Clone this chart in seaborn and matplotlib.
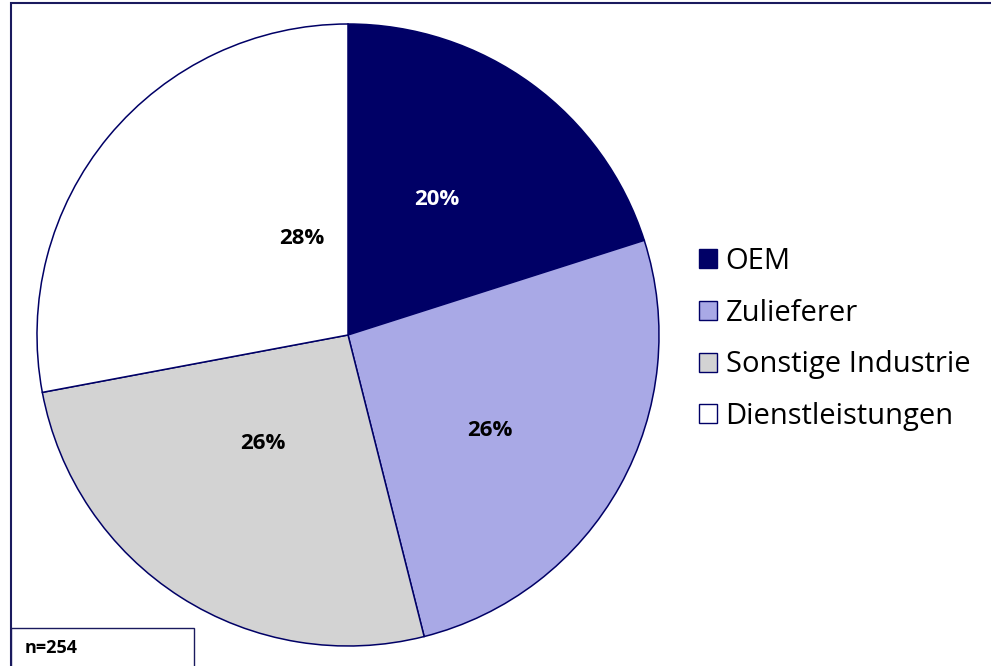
import matplotlib
matplotlib.use("Agg")
import numpy as np
import matplotlib.pyplot as plt
from matplotlib.patches import Patch, Rectangle
import seaborn as sns

# Data (n=254)
categories = ["OEM", "Zulieferer", "Sonstige Industrie", "Dienstleistungen"]
counts = [51, 66, 66, 71]
sample_label = "n=254"

colors = ["#000066", "#A9A9E6", "#D3D3D3", "#FFFFFF"]
pct_colors = ["white", "black", "black", "black"]
# label placement tweaks (radius, angle shift in degrees)
label_r = [0.52, 0.55, 0.445, 0.345]
label_dtheta = [2.8, -5.0, -5.5, -25.0]
edge = "#000066"

sns.set_theme(style="white")
plt.rcParams["font.family"] = ["Open Sans", "DejaVu Sans"]
plt.rcParams["text.color"] = "black"

fig = plt.figure(figsize=(9.91, 6.66), dpi=100)
ax = fig.add_axes([37 / 991, 20 / 666, 622 / 991, 622 / 666])

wedges, texts, autotexts = ax.pie(
    counts, colors=colors, startangle=90, counterclock=False,
    autopct=lambda p: f"{p:.0f}%", pctdistance=0.5, radius=1,
    wedgeprops=dict(edgecolor=edge, linewidth=1.1))

for w, t, c, r, dt in zip(wedges, autotexts, pct_colors, label_r, label_dtheta):
    mid = np.deg2rad((w.theta1 + w.theta2) / 2 + dt)
    t.set_position((r * np.cos(mid), r * np.sin(mid)))
    t.set_color(c)
    t.set_fontsize(16)
    t.set_fontweight("bold")

ax.set_xlim(-1, 1)
ax.set_ylim(-1, 1)
ax.set_aspect("equal")
ax.axis("off")

handles = [Patch(facecolor=c, edgecolor=edge, linewidth=1.0) for c in colors]
fig.legend(handles, categories, loc="center left",
           bbox_to_anchor=(687 / 991, (666 - 339) / 666),
           frameon=False, fontsize=21, handlelength=0.62, handleheight=0.62,
           handletextpad=0.3, labelspacing=0.78, borderaxespad=0,
           labelcolor="black")

# outer frame
fig.add_artist(Rectangle((11 / 991, -0.1), 1.2, 0.1 + 1 - 3 / 666,
                         transform=fig.transFigure, fill=False,
                         edgecolor="#1a1a5e", linewidth=1.5, clip_on=False))

# sample size box
fig.add_artist(Rectangle((11 / 991, -0.1), (194 - 11) / 991, 0.1 + 38 / 666,
                         transform=fig.transFigure, facecolor="white",
                         edgecolor="#1a1a5e", linewidth=1.0, clip_on=False))
fig.text(25 / 991, 18 / 666, sample_label, fontsize=13, fontweight="bold",
         va="center", ha="left", color="black")

fig.savefig("out.png", dpi=100)
